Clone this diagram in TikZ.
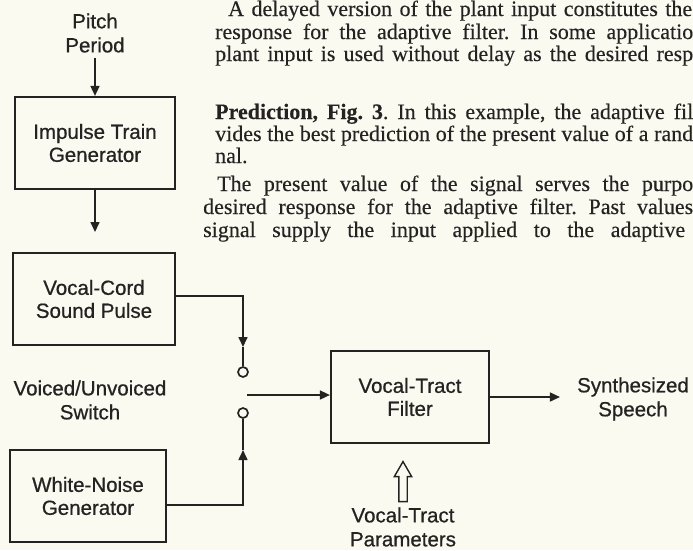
\documentclass[tikz,border=0pt]{standalone}
\usepackage{fontspec}
\setmainfont[FakeBold=0.3]{Liberation Serif}
\newfontfamily\diafont[FakeBold=0.7]{Liberation Sans}
\usepackage{xcolor}
\usepackage{tikz}
\usetikzlibrary{positioning,arrows.meta,shapes.arrows,calc}
\definecolor{paper}{RGB}{251,250,241}
\definecolor{ink}{RGB}{38,34,34}
\tikzset{
  blk/.style={draw=ink, line width=2.2pt, minimum height=92pt, font=\diafont\fontsize{20.5}{23}\selectfont, align=center, text=ink},
  lbl/.style={font=\diafont\fontsize{20.5}{24}\selectfont, align=center, inner sep=0pt, text=ink},
  pole/.style={draw=ink, circle, line width=1.7pt, minimum size=10pt, inner sep=0pt},
  arr/.style={-{Triangle[length=10pt,width=9pt]}, line width=1.6pt, draw=ink},
  wire/.style={line width=1.6pt, draw=ink},
  hollow/.style={single arrow, draw=ink, line width=1.4pt, shape border rotate=90, minimum height=40pt, inner sep=3.5pt, single arrow head extend=4.5pt, single arrow tip angle=60},
  txt/.style={font=\fontsize{22}{22}\selectfont, anchor=base west, inner sep=0pt, text=ink},
}
\frenchspacing
\begin{document}
\begin{tikzpicture}[x=1pt, y=-1pt]
\useasboundingbox (0,0) rectangle (693,550);
\fill[paper] (0,0) rectangle (693,550);
\clip (0,0) rectangle (693,550);
% page text beside the figure
\foreach \n/\x/\y/\w/\t in {
  p1/228/16/464/{A delayed version of the plant input constitutes the},
  p2/215/39/478/{response for the adaptive filter. In some applicatio},
  p3/215/61/478/{plant input is used without delay as the desired resp},
  p4/215/119/478/{\textbf{Prediction, Fig. 3}. In this example, the adaptive fil},
  p5/215/141/478/{vides the best prediction of the present value of a rand},
  p6/215/163/32/{nal.},
  p7/217/191/476/{The present value of the signal serves the purpo},
  p8/203/214/490/{desired response for the adaptive filter. Past values},
  p9/203/237/482/{signal supply the input applied to the adaptive}}
  \node[txt] (\n) at (\x,\y) {\makebox[\w pt][s]{\t}};
% blocks
\node[blk, minimum width=160pt] (imp) at (95,143) {Impulse Train\\Generator};
\node[blk, minimum width=162pt] (vc) at (94,299) {Vocal-Cord\\Sound Pulse};
\node[blk, minimum width=156pt] (wn) at (88,496) {White-Noise\\Generator};
\node[blk, minimum width=158pt] (vtf) at (410,397) {Vocal-Tract\\Filter};
\node[lbl] (pitch) at (95,33) {Pitch\\Period};
\node[lbl] (vus) at (90,400) {Voiced/Unvoiced\\Switch};
\node[lbl] (speech) at (633,399) {Synthesized\\Speech};
\node[lbl] (par) at (403,527) {Vocal-Tract\\Parameters};
\node[hollow, above=5pt of par] (pa) {};
% switch
\node[pole] (s1) at (243,372) {};
\node[pole] (s2) at (243,413) {};
\coordinate (pin) at (95,58);
\coordinate (arm) at (247,395);
\coordinate (t1) at (243,347);
\coordinate (t2) at (243,450);
\coordinate (vcin) at (95,232);
% connectors
\draw[arr] (pin) -- (imp);
\draw[arr] (imp.south) -- (vcin);
\draw[arr] ([yshift=3pt]vc.east) -| (t1);
\draw[wire] (t1) -- (s1);
\draw[arr] ([yshift=-9pt]wn.east) -| (t2);
\draw[wire] (t2) -- (s2);
\draw[arr] (arm) -- (arm -| vtf.west);
\draw[arr, shorten >=17pt] (vtf.east) -- (vtf.east -| speech.west);
\end{tikzpicture}
\end{document}
